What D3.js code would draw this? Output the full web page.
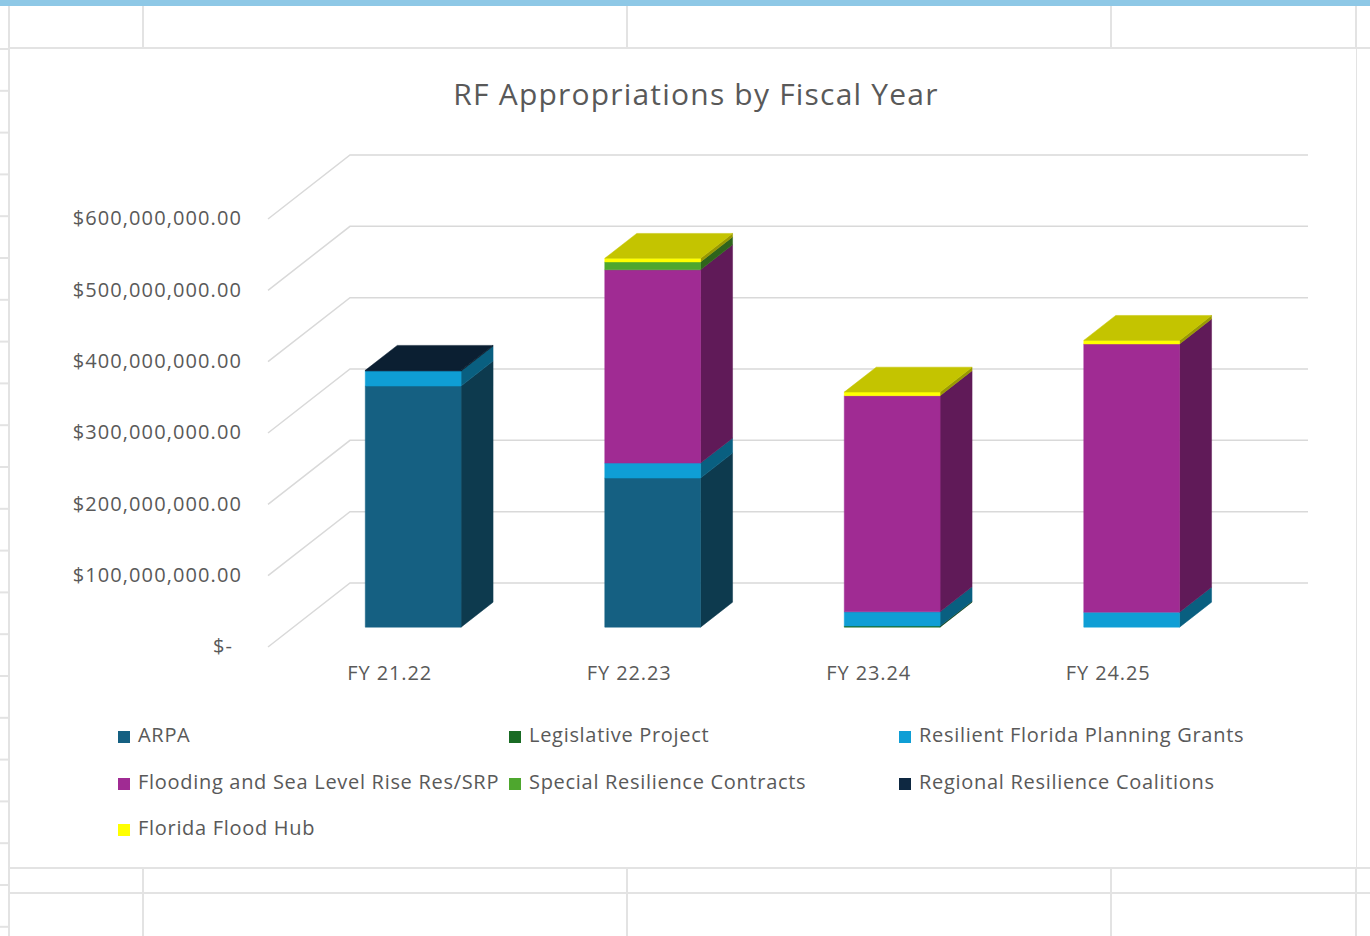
<!DOCTYPE html>
<html>
<head>
<meta charset="utf-8">
<script src="https://cdn.jsdelivr.net/npm/d3@7"></script>
<style>
  html, body { margin: 0; padding: 0; background: #fff; }
  svg { display: block; }
  text { font-family: "Open Sans", "Noto Sans", sans-serif; fill: #595959; }
</style>
</head>
<body>
<div id="chart"></div>
<script>
// Data (values in $)
const categories = ["FY 21.22", "FY 22.23", "FY 23.24", "FY 24.25"];
const seriesNames = [
  "ARPA",
  "Legislative Project",
  "Resilient Florida Planning Grants",
  "Flooding and Sea Level Rise Res/SRP",
  "Special Resilience Contracts",
  "Regional Resilience Coalitions",
  "Florida Flood Hub"
];
const seriesColors = ["#156082", "#196b24", "#0f9ed5", "#a02b93", "#4ea72e", "#0e2841", "#ffff00"];
const arpa         = [338e6, 209e6, 0, 0];
const legislative  = [0, 0, 1.5e6, 0];
const planning     = [21e6, 21e6, 20e6, 21e6];
const flooding     = [0, 271e6, 303e6, 376e6];
const special      = [0, 11e6, 0, 0];
const coalitions   = [1e6, 0, 0, 0];
const floodHub     = [0, 5e6, 5e6, 5e6];
const yTicks = [0, 100e6, 200e6, 300e6, 400e6, 500e6, 600e6];

const seriesValues = [arpa, legislative, planning, flooding, special, coalitions, floodHub];

const W = 1370, H = 936;
const svg = d3.select("#chart").append("svg")
  .attr("width", W).attr("height", H);

// Spreadsheet background
const gridColor = "#e3e3e3";
svg.append("rect").attr("x", 0).attr("y", 0).attr("width", W).attr("height", 6).attr("fill", "#8ec8e6");
[9, 143, 627, 1111, 1356].forEach(x => {
  svg.append("line").attr("x1", x).attr("x2", x).attr("y1", 6).attr("y2", H)
    .attr("stroke", gridColor).attr("stroke-width", 2);
});
[48, 868, 893].forEach(y => {
  svg.append("line").attr("x1", 9).attr("x2", W).attr("y1", y).attr("y2", y)
    .attr("stroke", gridColor).attr("stroke-width", 2);
});
for (let y = 49; y < H; y += 41.8) {
  svg.append("line").attr("x1", 0).attr("x2", 9).attr("y1", y).attr("y2", y)
    .attr("stroke", gridColor).attr("stroke-width", 2);
}

// Chart area
svg.append("rect").attr("x", 10).attr("y", 49).attr("width", 1346).attr("height", 818).attr("fill", "#fff");

// Title
svg.append("text")
  .attr("x", 696).attr("y", 97)
  .attr("text-anchor", "middle").attr("dominant-baseline", "middle")
  .style("font-size", "30px")
  .style("letter-spacing", "1.2px")
  .text("RF Appropriations by Fiscal Year");

// 3D geometry: front plane scales + depth offset
const x = d3.scaleBand().domain(categories).range([268, 1226]).paddingInner(0.6).paddingOuter(0.3);
const y = d3.scaleLinear().domain([0, 600e6]).range([647, 219]);
const depth = { dx: 82, dy: -64 };
const off = z => [depth.dx * z, depth.dy * z];
const zFront = 0.31, zBack = 0.70;

// Gridlines: side wall + back wall
const grid = svg.append("g");
yTicks.forEach(t => {
  const [bx, by] = off(1);
  grid.append("polyline")
    .attr("points", `${268},${y(t)} ${268 + bx},${y(t) + by} ${1226 + bx},${y(t) + by}`)
    .attr("fill", "none").attr("stroke", "#d9d9d9").attr("stroke-width", 1.5);
});

// Y axis labels
const fmt = d3.format(",.2f");
svg.append("g").selectAll("text").data(yTicks).enter().append("text")
  .attr("x", d => d === 0 ? 233 : 242)
  .attr("y", d => y(d) + 1)
  .attr("text-anchor", "end").attr("dominant-baseline", "middle")
  .style("font-size", "20px")
  .style("letter-spacing", "1.1px")
  .text(d => d === 0 ? "$-" : "$" + fmt(d));

// Category labels
svg.append("g").selectAll("text").data(categories).enter().append("text")
  .attr("x", d => x(d) + x.bandwidth() / 2 + 2)
  .attr("y", 675)
  .attr("text-anchor", "middle").attr("dominant-baseline", "middle")
  .style("font-size", "20px")
  .style("letter-spacing", "0.9px")
  .text(d => d);

// Stack
const table = categories.map((c, i) => {
  const row = { cat: c };
  seriesNames.forEach((s, j) => row[s] = seriesValues[j][i]);
  return row;
});
const stack = d3.stack().keys(seriesNames)(table);

function shade(c, k) {
  const col = d3.rgb(c);
  return d3.rgb(col.r * k, col.g * k, col.b * k).formatHex();
}

const bars = svg.append("g");
categories.forEach((c, i) => {
  const x0 = x(c), x1 = x(c) + x.bandwidth();
  const [fx, fy] = off(zFront);
  const [bx, by] = off(zBack);
  let topSeries = -1;
  stack.forEach((s, j) => {
    const v0 = s[i][0], v1 = s[i][1];
    if (v1 - v0 <= 0) return;
    topSeries = j;
    const col = seriesColors[j];
    // side face (right)
    bars.append("polygon")
      .attr("points", [
        [x1 + fx, y(v0) + fy], [x1 + bx, y(v0) + by],
        [x1 + bx, y(v1) + by], [x1 + fx, y(v1) + fy]
      ].map(p => p.join(",")).join(" "))
      .attr("fill", shade(col, 0.6)).attr("stroke", shade(col, 0.6)).attr("stroke-width", 0.5);
    // front face
    bars.append("polygon")
      .attr("points", [
        [x0 + fx, y(v0) + fy], [x1 + fx, y(v0) + fy],
        [x1 + fx, y(v1) + fy], [x0 + fx, y(v1) + fy]
      ].map(p => p.join(",")).join(" "))
      .attr("fill", col).attr("stroke", col).attr("stroke-width", 0.5);
  });
  if (topSeries >= 0) {
    const vt = stack[topSeries][i][1];
    const col = seriesColors[topSeries];
    bars.append("polygon")
      .attr("points", [
        [x0 + fx, y(vt) + fy], [x1 + fx, y(vt) + fy],
        [x1 + bx, y(vt) + by], [x0 + bx, y(vt) + by]
      ].map(p => p.join(",")).join(" "))
      .attr("fill", shade(col, 0.77)).attr("stroke", shade(col, 0.77)).attr("stroke-width", 0.5);
  }
});

// Legend
const legCols = [118, 509, 899], legRows = [737, 784, 830];
const legend = svg.append("g").selectAll("g").data(seriesNames).enter().append("g")
  .attr("transform", (d, i) => `translate(${legCols[i % 3]},${legRows[Math.floor(i / 3)]})`);
legend.append("rect")
  .attr("x", 0).attr("y", -6).attr("width", 12).attr("height", 12)
  .attr("fill", (d, i) => seriesColors[i]);
legend.append("text")
  .attr("x", 20).attr("y", 0)
  .attr("dominant-baseline", "middle")
  .style("font-size", "20px")
  .style("letter-spacing", "0.7px")
  .text(d => d);
</script>
</body>
</html>
